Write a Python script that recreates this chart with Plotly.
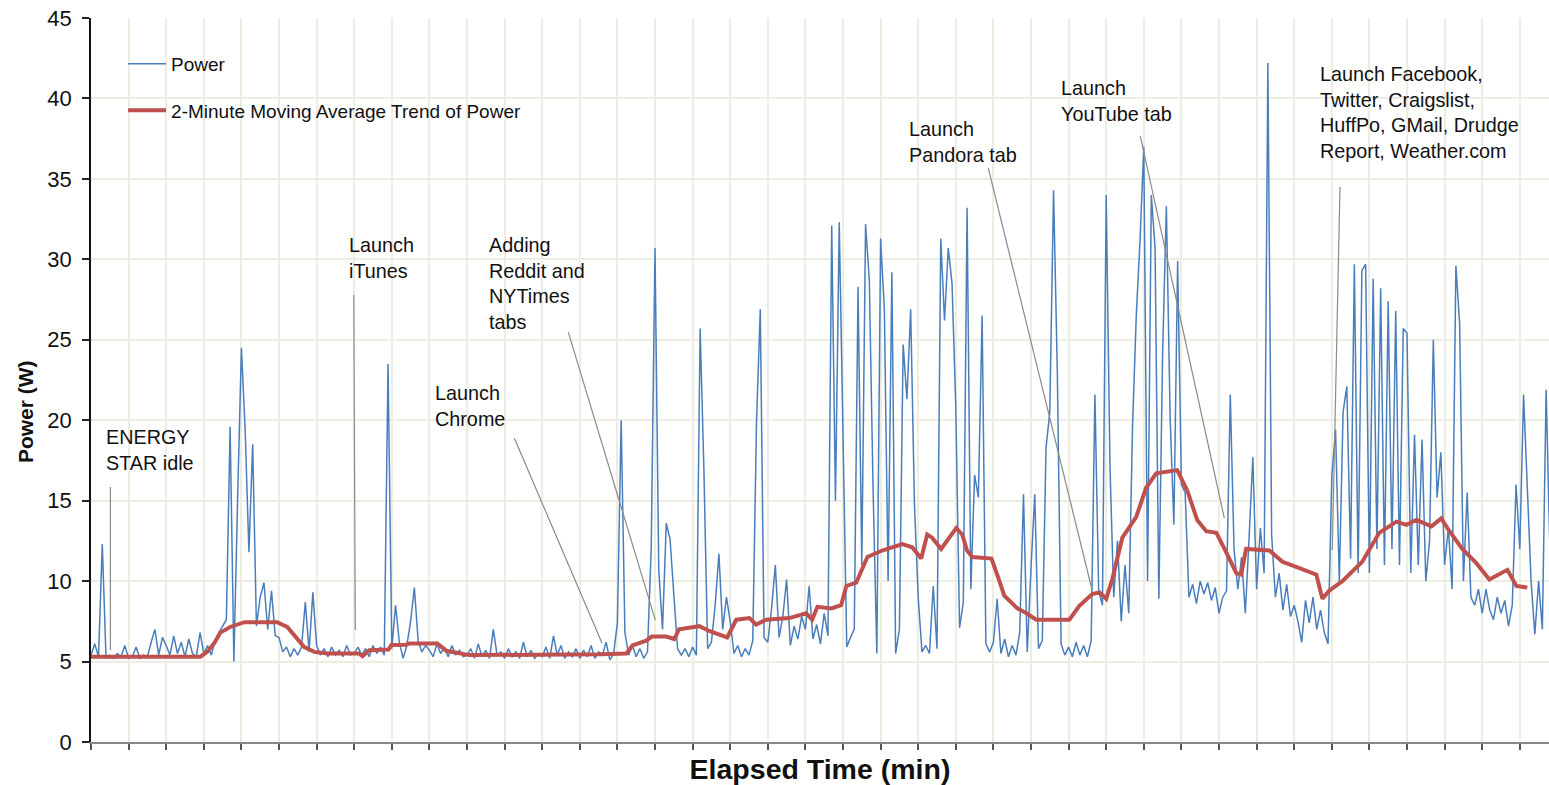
import numpy as np
import plotly.graph_objects as go

# ---------------- data ----------------
# Power samples, one every 0.1 min, grouped per 10 minutes
power_min00_09 = [
    5.4, 6.1, 5.3, 12.3, 5.2, 5.4, 5.2, 5.5, 5.3, 6.0,
    5.2, 5.3, 5.9, 5.2, 5.4, 5.3, 6.2, 7.0, 5.4, 6.5,
    6.0, 5.4, 6.6, 5.5, 6.2, 5.3, 6.4, 5.5, 5.3, 6.8,
    5.5, 6.0, 5.4, 6.3, 6.8, 7.2, 7.6, 19.6, 5.0, 15.2,
    24.5, 19.4, 11.8, 18.5, 7.2, 9.0, 9.9, 7.0, 9.4, 6.6,
    6.5, 5.6, 5.9, 5.3, 5.8, 5.4, 5.9, 8.7, 5.6, 9.3,
    6.0, 5.4, 5.8, 5.3, 5.9, 5.4, 5.7, 5.3, 6.0, 5.4,
    5.5, 5.9, 5.4, 5.8, 5.3, 6.0, 5.5, 5.9, 5.4, 23.5,
    5.8, 8.5, 6.2, 5.2, 6.0, 7.5, 9.6, 6.3, 5.6, 6.0,
    5.7, 5.3, 6.1, 5.5, 5.9, 5.3, 6.0, 5.4, 5.7, 5.3,
]
power_min10_19 = [
    5.4, 5.8, 5.2, 6.1, 5.3, 5.7, 5.2, 7.0, 5.4, 5.6,
    5.2, 5.8, 5.3, 5.6, 5.2, 6.2, 5.3, 5.7, 5.2, 5.5,
    5.3, 5.9, 5.2, 6.6, 5.4, 6.0, 5.2, 5.6, 5.3, 5.8,
    5.2, 5.7, 5.3, 6.0, 5.2, 5.6, 5.4, 6.2, 5.1, 5.5,
    7.4, 20.0, 6.8, 5.4, 6.0, 5.3, 5.8, 5.2, 5.6, 12.1,
    30.7, 10.7, 7.0, 13.6, 12.6, 9.2, 5.8, 5.4, 5.8, 5.3,
    5.9, 5.4, 25.7, 17.0, 5.8, 6.2, 8.5, 11.7, 7.0, 9.0,
    7.5, 5.5, 6.0, 5.3, 5.8, 5.4, 6.3, 19.9, 26.9, 6.5,
    6.2, 8.3, 11.0, 6.5, 7.8, 10.1, 6.0, 7.2, 6.4, 7.8,
    7.0, 9.7, 6.4, 7.3, 6.1, 8.0, 6.6, 32.1, 15.0, 32.3,
]
power_min20_29 = [
    19.9, 5.9, 6.5, 7.0, 28.3, 11.0, 32.2, 28.7, 15.7, 5.5,
    31.3, 26.9, 10.0, 29.2, 5.5, 7.0, 24.7, 21.3, 26.9, 14.8,
    9.0, 5.6, 6.0, 5.5, 9.7, 5.8, 31.3, 26.2, 30.7, 28.5,
    20.8, 7.1, 8.7, 33.2, 9.5, 16.6, 15.2, 26.5, 6.1, 5.6,
    6.2, 8.9, 5.5, 6.4, 5.3, 6.0, 5.4, 6.8, 15.4, 5.6,
    10.8, 15.4, 5.8, 6.3, 18.3, 20.5, 34.3, 23.0, 6.1, 5.4,
    5.9, 5.3, 6.2, 5.4, 6.0, 5.3, 6.3, 21.6, 9.4, 8.5,
    34.0, 17.2, 9.0, 12.5, 7.5, 11.0, 8.0, 19.6, 26.5, 31.2,
    37.0, 10.0, 34.0, 30.7, 8.9, 24.1, 33.3, 20.2, 13.5, 29.9,
    16.0, 15.5, 9.0, 9.8, 8.6, 10.0, 9.2, 9.9, 8.8, 9.6,
]
power_min30_38 = [
    8.0, 9.0, 9.4, 21.6, 12.0, 9.5, 11.5, 8.0, 12.7, 17.7,
    9.5, 13.3, 10.5, 42.2, 12.9, 9.0, 10.5, 8.2, 9.8, 7.8,
    8.5, 7.5, 6.2, 8.8, 7.4, 9.0, 7.0, 8.2, 6.8, 6.1,
    16.5, 19.4, 10.0, 20.5, 22.1, 11.4, 29.7, 10.5, 29.3, 29.7,
    10.5, 28.8, 12.0, 28.2, 11.0, 27.4, 12.0, 26.8, 11.0, 25.7,
    25.4, 10.5, 19.1, 11.0, 18.8, 10.0, 12.5, 25.0, 15.2, 18.0,
    11.0, 13.3, 9.5, 29.6, 26.0, 10.0, 15.5, 9.0, 8.5, 9.5,
    8.0, 9.5, 8.2, 7.6, 9.0, 8.0, 8.8, 7.2, 8.5, 16.0,
    12.0, 21.6, 15.8, 10.0, 6.7, 10.0, 7.0, 21.9, 12.0,
]
sample_step_min = 0.1

# 2-minute moving average trend (time in min, watts)
trend_t = [0.0, 2.91, 3.09, 3.28, 3.44, 3.70, 4.08, 4.95, 5.22, 5.43, 5.67, 5.94,
           6.29, 7.13, 7.22, 7.40, 7.91, 7.99, 8.38, 8.47, 9.21, 9.45, 10.06, 13.52,
           14.24, 14.40, 14.77, 14.91, 15.30, 15.51, 15.64, 16.18, 16.44, 16.92, 17.16,
           17.51, 17.69, 17.96, 18.57, 19.02, 19.18, 19.32, 19.69, 19.95, 20.09, 20.35,
           20.49, 20.65, 21.04, 21.58, 21.84, 22.08, 22.24, 22.37, 22.61, 23.01, 23.17,
           23.30, 23.44, 23.95, 24.16, 24.29, 24.64, 24.88, 25.14, 26.02, 26.28, 26.63,
           26.82, 27.00, 27.16, 27.43, 27.80, 28.06, 28.33, 28.89, 29.16, 29.42, 29.66,
           29.93, 30.19, 30.46, 30.59, 30.72, 31.34, 31.69, 32.14, 32.59, 32.75, 32.93,
           33.28, 33.81, 34.26, 34.72, 34.98, 35.25, 35.65, 35.91, 36.13, 36.47, 36.85,
           37.19, 37.67, 37.91, 38.20]
trend_w = [5.3, 5.3, 5.6, 6.15, 6.8, 7.15, 7.45, 7.45, 7.15, 6.55, 5.9, 5.6,
           5.5, 5.5, 5.33, 5.7, 5.75, 6.03, 6.05, 6.13, 6.13, 5.67, 5.4, 5.45,
           5.5, 6.0, 6.3, 6.55, 6.55, 6.4, 7.0, 7.2, 6.9, 6.5, 7.6,
           7.7, 7.3, 7.6, 7.7, 8.0, 7.6, 8.4, 8.3, 8.5, 9.7, 9.9,
           10.6, 11.5, 11.9, 12.3, 12.1, 11.4, 12.9, 12.7, 12.0, 13.3, 12.9,
           11.9, 11.5, 11.4, 10.0, 9.1, 8.3, 8.0, 7.6, 7.6, 8.45, 9.2,
           9.3, 8.9, 10.1, 12.7, 14.0, 15.8, 16.7, 16.9, 15.6, 13.8, 13.1,
           13.0, 11.8, 10.5, 10.4, 12.0, 11.9, 11.2, 10.8, 10.4, 8.9, 9.4,
           10.0, 11.2, 13.0, 13.7, 13.5, 13.8, 13.4, 13.9, 13.1, 12.0, 11.1,
           10.1, 10.7, 9.7, 9.6]

# callouts: text, text anchor (min, W), leader line start/end (min, W)
callout_text = ["ENERGY<br>STAR idle", "Launch<br>iTunes", "Launch<br>Chrome",
                "Adding<br>Reddit and<br>NYTimes<br>tabs", "Launch<br>Pandora tab",
                "Launch<br>YouTube tab",
                "Launch Facebook,<br>Twitter, Craigslist,<br>HuffPo, GMail, Drudge<br>Report, Weather.com"]
callout_tx = [0.354, 6.817, 9.104, 10.54, 21.71, 25.75, 32.64]
callout_ty = [18.12, 30.08, 20.88, 28.5, 37.29, 39.84, 39.15]
leader_x0 = [0.516, 6.989, 11.258, 12.694, 23.864, 27.907, 33.218]
leader_y0 = [15.85, 27.78, 18.89, 25.48, 35.67, 37.66, 34.49]
leader_x1 = [0.516, 7.029, 13.590, 15.008, 26.63, 30.141, 33.013]
leader_y1 = [5.72, 6.96, 6.15, 7.58, 9.40, 13.92, 11.93]

# ---------------- figure ----------------
power = power_min00_09 + power_min10_19 + power_min20_29 + power_min30_38
power_t = np.arange(len(power)) * sample_step_min

FONT = "Liberation Sans, Arial, sans-serif"
GRID = "#EEEDE2"

fig = go.Figure()
fig.add_trace(go.Scatter(x=power_t, y=power, mode="lines", name="Power",
                         line=dict(color="#4A7EBB", width=1.5), legendgroup="a"))
fig.add_trace(go.Scatter(x=trend_t, y=trend_w, mode="lines",
                         name="2-Minute Moving Average Trend of Power",
                         line=dict(color="#C0504D", width=4), legendgroup="b"))

for txt, tx, ty in zip(callout_text, callout_tx, callout_ty):
    fig.add_annotation(x=tx, y=ty, text=txt, showarrow=False, xanchor="left",
                       yanchor="middle", align="left",
                       font=dict(family=FONT, size=19.8, color="#111111"))
for x0, y0, x1, y1 in zip(leader_x0, leader_y0, leader_x1, leader_y1):
    fig.add_shape(type="line", x0=x0, y0=y0, x1=x1, y1=y1, xref="x", yref="y",
                  line=dict(color="#8A8A8A", width=1.2))

# y-axis title, set slightly below the axis centre as in the reference
fig.add_annotation(text="<b>Power (W)</b>", textangle=-90, showarrow=False,
                   xref="paper", yref="paper", x=-0.0453, y=0.457,
                   xanchor="center", yanchor="middle",
                   font=dict(size=21, family=FONT, color="#111111"))

fig.update_layout(
    width=1549, height=785,
    margin=dict(l=91, r=0, t=18, b=43),
    plot_bgcolor="white", paper_bgcolor="white",
    font=dict(family=FONT, color="#111111"),
    legend=dict(x=0.022, y=0.963, xanchor="left", yanchor="top",
                bgcolor="rgba(0,0,0,0)", font=dict(size=19, family=FONT),
                tracegroupgap=19, itemwidth=38),
    xaxis=dict(range=[0, 1458 / 37.6], dtick=1, tick0=0, showticklabels=False,
               ticks="outside", ticklen=6, tickcolor="#555555", tickwidth=1.5,
               showline=True, linecolor="#888888", linewidth=2,
               showgrid=True, gridcolor=GRID, gridwidth=1.5, zeroline=False,
               automargin=False,
               title=dict(text="<b>Elapsed Time (min)</b>", standoff=11,
                          font=dict(size=28.5, family=FONT, color="#111111"))),
    yaxis=dict(range=[0, 45], dtick=5, tick0=0, ticks="outside", ticklen=7,
               tickcolor="#222222", tickwidth=1.5, showline=True,
               linecolor="#111111", linewidth=1.5, showgrid=True,
               gridcolor=GRID, gridwidth=1.5, zeroline=False, automargin=False,
               ticklabelstandoff=6,
               tickfont=dict(size=22, family=FONT, color="#111111")),
)

fig.write_html("out.html", config={"displayModeBar": False},
               post_script="document.body.style.margin='0px';")
